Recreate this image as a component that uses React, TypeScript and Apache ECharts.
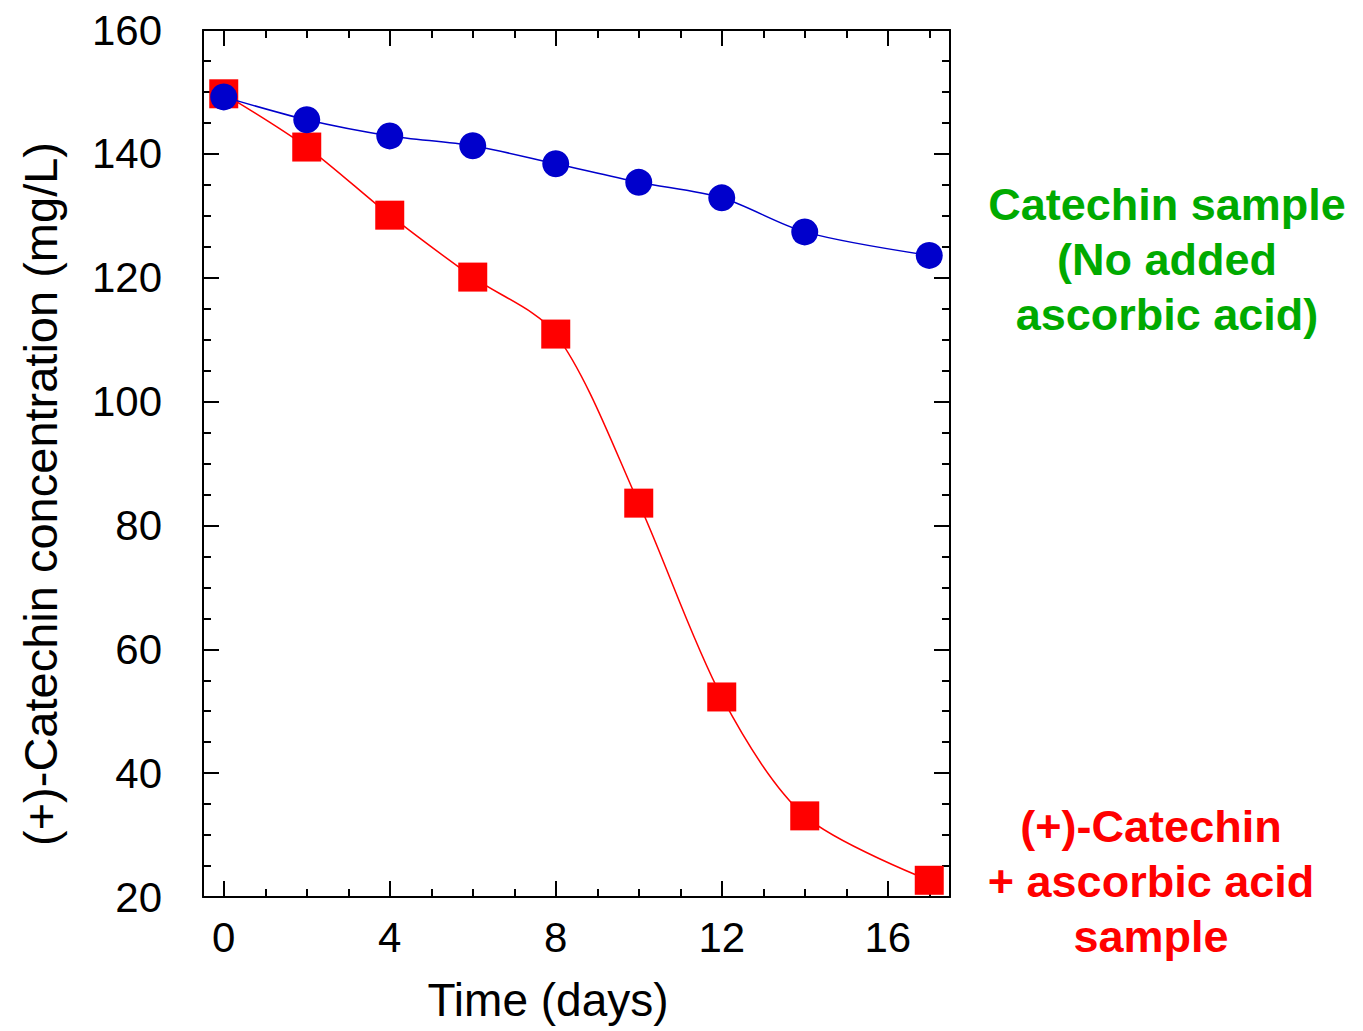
import React, { useEffect, useRef } from "react";
import * as echarts from "echarts";

const days = [0, 2, 4, 6, 8, 10, 12, 14, 17];
const catechinOnly = [149.2, 145.5, 142.9, 141.3, 138.4, 135.4, 132.9, 127.4, 123.6];
const catechinAscorbic = [149.7, 141.1, 130.1, 120.1, 110.9, 83.6, 52.3, 33.1, 22.7];
const xMajorTicks = [0, 4, 8, 12, 16];
const xMinorTicks = [1, 2, 3, 5, 6, 7, 9, 10, 11, 13, 14, 15, 17];
const xTitle = "Time (days)";
const yTitle = "(+)-Catechin concentration (mg/L)";
const greenNote = "Catechin sample\n(No added\nascorbic acid)";
const redNote = "(+)-Catechin\n+ ascorbic acid\nsample";

const FONT = "'Liberation Sans', Arial, Helvetica, sans-serif";

export default function App() {
  const ref = useRef<HTMLDivElement>(null);

  useEffect(() => {
    document.body.style.margin = "0";
    if (!ref.current) return;
    const chart = echarts.init(ref.current, null, { renderer: "svg" });

    const lineStyle = { color: "#000", width: 2 };
    const xBase = (position: string, ticks: number[], len: number, labels: boolean, showLine: boolean) => ({
      type: "value",
      position,
      min: -0.5,
      max: 17.5,
      gridIndex: 0,
      axisLine: { show: showLine, onZero: false, lineStyle },
      axisTick: { show: true, inside: true, length: len, lineStyle, customValues: ticks },
      axisLabel: labels
        ? { show: true, customValues: ticks, fontSize: 42, color: "#000", fontFamily: FONT, margin: 19 }
        : { show: false },
      splitLine: { show: false },
    });

    const yBase = (position: string, labels: boolean) => ({
      type: "value",
      position,
      min: 20,
      max: 160,
      interval: 20,
      axisLine: { show: true, onZero: false, lineStyle },
      axisTick: { show: true, inside: true, length: 16, lineStyle },
      minorTick: { show: true, splitNumber: 4, length: 8, lineStyle },
      axisLabel: labels
        ? { show: true, fontSize: 42, color: "#000", fontFamily: FONT, margin: 41 }
        : { show: false },
      splitLine: { show: false },
      minorSplitLine: { show: false },
    });

    const option: any = {
      animation: false,
      backgroundColor: "#fff",
      grid: { left: 203, right: 413, top: 30, bottom: 134, containLabel: false },
      xAxis: [
        xBase("bottom", xMajorTicks, 16, true, true),
        xBase("bottom", xMinorTicks, 8, false, false),
        xBase("top", xMajorTicks, 16, false, true),
        xBase("top", xMinorTicks, 8, false, false),
      ],
      yAxis: [yBase("left", true), yBase("right", false)],
      series: [
        {
          type: "line",
          name: "(+)-Catechin + ascorbic acid sample",
          data: days.map((d, i) => [d, catechinAscorbic[i]]),
          smooth: 0.3,
          symbol: "rect",
          symbolSize: 29,
          showAllSymbol: true,
          lineStyle: { color: "#ff0000", width: 1.5 },
          itemStyle: { color: "#ff0000" },
          z: 2,
        },
        {
          type: "line",
          name: "Catechin sample (No added ascorbic acid)",
          data: days.map((d, i) => [d, catechinOnly[i]]),
          smooth: 0.3,
          symbol: "circle",
          symbolSize: 27,
          showAllSymbol: true,
          lineStyle: { color: "#0000cc", width: 1.5 },
          itemStyle: { color: "#0000cc" },
          z: 3,
        },
      ],
      graphic: [
        {
          type: "text",
          x: 548,
          y: 1000,
          style: {
            text: xTitle,
            fontSize: 46,
            fontFamily: FONT,
            fill: "#000",
            align: "center",
            verticalAlign: "middle",
          },
        },
        {
          type: "text",
          x: 40,
          y: 494,
          rotation: Math.PI / 2,
          style: {
            text: yTitle,
            fontSize: 47,
            fontFamily: FONT,
            fill: "#000",
            align: "center",
            verticalAlign: "middle",
          },
        },
        {
          type: "text",
          x: 1167,
          y: 259,
          style: {
            text: greenNote,
            fontSize: 45,
            fontWeight: "bold",
            lineHeight: 55,
            fontFamily: FONT,
            fill: "#00aa00",
            align: "center",
            verticalAlign: "middle",
          },
        },
        {
          type: "text",
          x: 1151,
          y: 881,
          style: {
            text: redNote,
            fontSize: 45,
            fontWeight: "bold",
            lineHeight: 55,
            fontFamily: FONT,
            fill: "#ff0000",
            align: "center",
            verticalAlign: "middle",
          },
        },
      ],
    };

    chart.setOption(option);
    return () => chart.dispose();
  }, []);

  return <div ref={ref} style={{ width: 1363, height: 1031 }} />;
}
